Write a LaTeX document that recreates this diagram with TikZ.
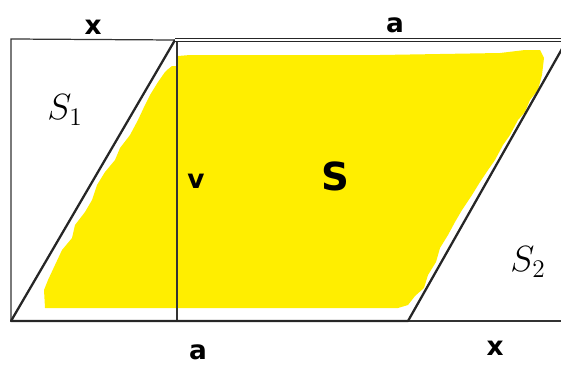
\documentclass[tikz,border=0pt]{standalone}
\usepackage{fontspec}
\newfontfamily\lblfont{DejaVu Sans}
\usetikzlibrary{calc}
\definecolor{paintyellow}{RGB}{255,238,0}

\begin{document}
\begin{tikzpicture}[x=0.02cm, y=-0.02cm, frame/.style={line width=0.7pt, draw=black!80}, edge/.style={line width=1.3pt, draw=black!85}, lbl/.style={font=\lblfont\bfseries\fontsize{15}{18}\selectfont, inner sep=0pt}, area/.style={font=\fontsize{21}{25}\selectfont, inner sep=0pt}]
\useasboundingbox (0,0) rectangle (561,365);
\clip (0,0) rectangle (561,365);
\coordinate (TL) at (11,39);
\coordinate (BL) at (11,321);
\coordinate (P1) at (175,40);
\coordinate (P2) at (408,321);
\coordinate (P3) at (567,40);
\coordinate (BR) at (561,321);
\coordinate (H1) at (177,40);
\coordinate (H2) at (177,321);
\fill[paintyellow] (167,70) -- (172,66) -- (178,66) -- (178,56) -- (190,55) -- (380,55) -- (500,53) -- (525,50) -- (540,50) -- (544,58) -- (542,75) -- (538,90) -- (530,100) -- (525,112) -- (518,120) -- (510,135) -- (503,145) -- (495,160) -- (488,170) -- (480,182) -- (472,195) -- (462,210) -- (455,222) -- (448,235) -- (440,248) -- (436,262) -- (428,275) -- (424,288) -- (415,296) -- (408,305) -- (398,308) -- (45,308) -- (44,290) -- (48,280) -- (55,265) -- (62,250) -- (72,238) -- (75,225) -- (85,212) -- (92,200) -- (97,185) -- (105,172) -- (115,160) -- (120,148) -- (130,135) -- (138,120) -- (145,105) -- (150,95) -- (158,82) -- (165,72) -- cycle;
\draw[frame] (P1) -- (TL) -- (BL);
\draw[frame] (P2) -- (BR);
\draw[frame, line width=0.6pt] (H1) -- (H2);
\draw[edge, line join=round] (P1) -- (BL) -- (P2) -- (P3);
\draw[draw=black!85, double=white, double distance=0.9pt, line width=0.6pt] (P1) -- (P3);
\node[lbl] (xtop) at (93,27) {x};
\node[lbl] (atop) at (395,25) {a};
\node[lbl] (v) at (196,181) {v};
\node[lbl, font=\lblfont\bfseries\fontsize{22}{26}\selectfont] (S) at (335,176) {S};
\node[lbl] (abot) at (198,352) {a};
\node[lbl] (xbot) at (495,348) {x};
\node[area] (S1) at (65,110) {$S_1$};
\node[area] (S2) at (528,262) {$S_2$};
\end{tikzpicture}
\end{document}
